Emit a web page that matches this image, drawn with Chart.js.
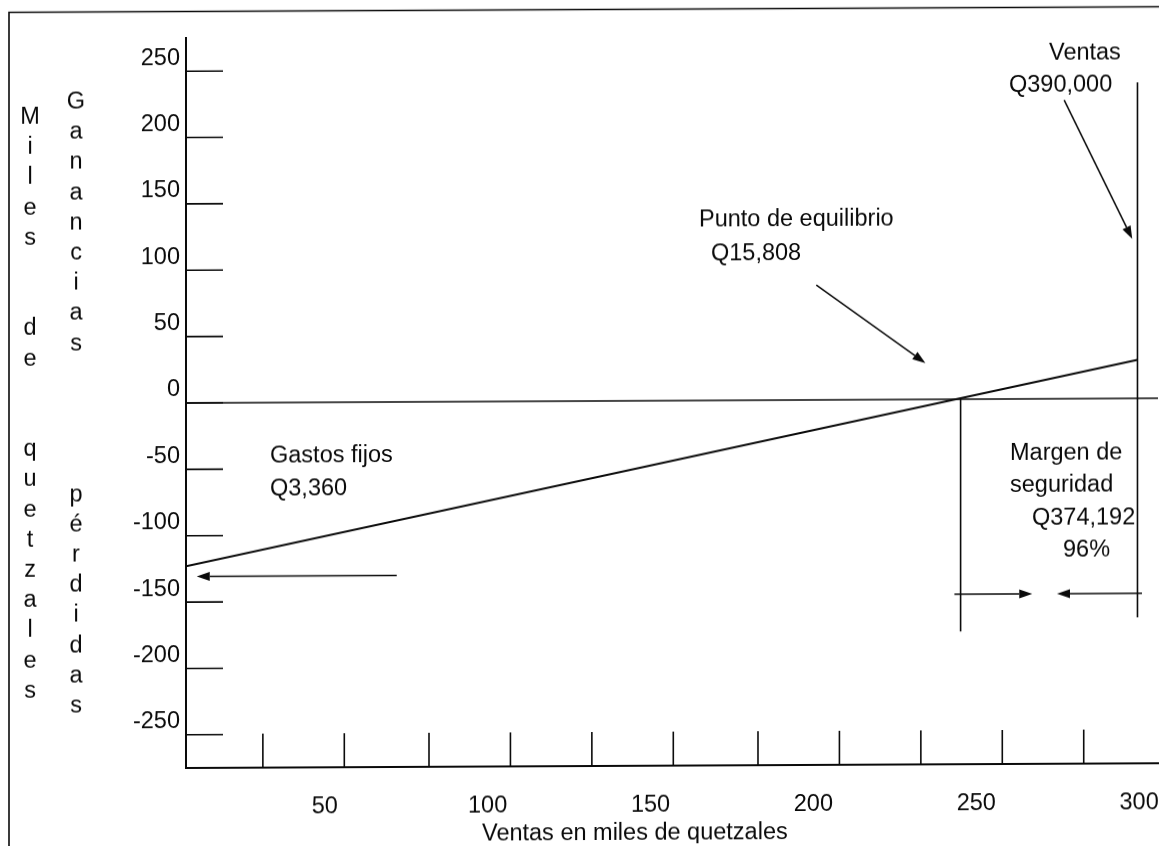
<!DOCTYPE html>
<html lang="es">
<head>
<meta charset="utf-8">
<title>Punto de equilibrio</title>
<script src="https://cdn.jsdelivr.net/npm/chart.js@4.4.1/dist/chart.umd.min.js"></script>
<style>
  html, body { margin: 0; padding: 0; background: #fff; }
  /* el original es un escaneo ligeramente inclinado */
  #wrap { position: relative; width: 1159px; height: 846px; overflow: hidden;
          transform: skewY(-0.28deg); transform-origin: 186px 403px; }
</style>
</head>
<body>
<div id="wrap"><canvas id="grafica"></canvas></div>
<script>
// --- datos del grafico (miles de quetzales) ---
const ticksY = [-250, -200, -150, -100, -50, 0, 50, 100, 150, 200, 250];
const etiquetasX = [50, 100, 150, 200, 250, 300];
const marcasX = [31, 56, 82, 107, 132, 157, 183, 208, 233, 258, 283];

// linea de utilidad / perdida
const utilidadX = [7.4, 299.5];
const utilidadY = [-123, 29];

// linea de cero
const ceroX = [7.4, 305.8];
const ceroY = [0, 0];

// punto de equilibrio y ventas
const equilibrioX = [245.2, 245.2];
const equilibrioY = [0, -175];
const ventasX = [299.5, 299.5];
const ventasY = [238, -165];

// flechas [x inicio, y inicio, x punta, y punta]
const flechaGastos = [72.1, -130.7, 10.7, -130.7];
const flechaEquilibrio = [200.9, 86.6, 234.4, 27.4];
const flechaVentas = [277.0, 225.0, 297.9, 120.1];
const flechaMargenIzq = [243.3, -146.9, 267.2, -146.9];
const flechaMargenDer = [300.9, -146.9, 274.8, -146.9];
const flechas = [flechaGastos, flechaEquilibrio, flechaVentas, flechaMargenIzq, flechaMargenDer];

const fuente = '"Liberation Sans", Arial, sans-serif';
const tamano = 23.5;
const negro = '#0a0a0a';

// textos sueltos (posicion en pixeles, linea base)
const notas = [
  { texto: 'Gastos fijos', x: 270, y: 463 },
  { texto: 'Q3,360', x: 270, y: 496 },
  { texto: 'Punto de equilibrio', x: 699, y: 229 },
  { texto: 'Q15,808', x: 711, y: 263 },
  { texto: 'Ventas', x: 1049, y: 64 },
  { texto: 'Q390,000', x: 1009, y: 96 },
  { texto: 'Margen de', x: 1010, y: 464 },
  { texto: 'seguridad', x: 1010, y: 496 },
  { texto: 'Q374,192', x: 1032, y: 529 },
  { texto: '96%', x: 1063, y: 561 },
  { texto: 'Ventas en miles de quetzales', x: 482, y: 842 }
];

// titulos verticales, una letra por renglon
const columnas = [
  { texto: 'Miles  de  quetzales', x: 30, y: 123 },
  { texto: 'Ganancias    pérdidas', x: 76, y: 108 }
];

function segmento(xs, ys) {
  return xs.map((v, i) => ({ x: v, y: ys[i] }));
}

function dibujaFlecha(ctx, x1, y1, x2, y2) {
  const ang = Math.atan2(y2 - y1, x2 - x1);
  const largo = 13, ancho = 4.5;
  const bx = x2 - largo * Math.cos(ang), by = y2 - largo * Math.sin(ang);
  ctx.beginPath();
  ctx.moveTo(x1, y1);
  ctx.lineTo(bx, by);
  ctx.stroke();
  ctx.beginPath();
  ctx.moveTo(x2, y2);
  ctx.lineTo(bx + ancho * Math.sin(ang), by - ancho * Math.cos(ang));
  ctx.lineTo(bx - ancho * Math.sin(ang), by + ancho * Math.cos(ang));
  ctx.closePath();
  ctx.fill();
}

const decoracion = {
  id: 'decoracion',
  afterDraw(chart) {
    const { ctx, chartArea: a, scales: { x, y } } = chart;
    ctx.save();
    ctx.strokeStyle = negro;
    ctx.fillStyle = negro;

    // marco de la hoja
    ctx.lineWidth = 1.6;
    ctx.beginPath();
    ctx.moveTo(9, 846);
    ctx.lineTo(9, 11.5);
    ctx.lineTo(1159, 11.5);
    ctx.stroke();

    // marcas del eje y (hacia adentro)
    ticksY.forEach(v => {
      const py = y.getPixelForValue(v);
      ctx.beginPath();
      ctx.moveTo(a.left, py);
      ctx.lineTo(a.left + 37, py);
      ctx.stroke();
    });

    // marcas del eje x (hacia arriba)
    marcasX.forEach(v => {
      const px = x.getPixelForValue(v);
      ctx.beginPath();
      ctx.moveTo(px, a.bottom);
      ctx.lineTo(px, a.bottom - 34);
      ctx.stroke();
    });

    // flechas
    ctx.lineWidth = 1.5;
    flechas.forEach(f => dibujaFlecha(ctx,
      x.getPixelForValue(f[0]), y.getPixelForValue(f[1]),
      x.getPixelForValue(f[2]), y.getPixelForValue(f[3])));

    // textos
    ctx.font = tamano + 'px ' + fuente;
    ctx.textBaseline = 'alphabetic';
    ctx.textAlign = 'left';
    notas.forEach(n => ctx.fillText(n.texto, n.x, n.y));

    ctx.textAlign = 'center';
    columnas.forEach(c => {
      [...c.texto].forEach((ch, i) => ctx.fillText(ch, c.x, c.y + i * 30.2));
    });
    ctx.restore();
  }
};

const estiloLinea = { showLine: true, pointRadius: 0, borderColor: negro, fill: false };

new Chart(document.getElementById('grafica'), {
  type: 'scatter',
  data: {
    datasets: [
      { ...estiloLinea, label: 'Utilidad', data: segmento(utilidadX, utilidadY), borderWidth: 2 },
      { ...estiloLinea, label: 'Cero', data: segmento(ceroX, ceroY), borderWidth: 1.6 },
      { ...estiloLinea, label: 'Equilibrio', data: segmento(equilibrioX, equilibrioY), borderWidth: 1.6 },
      { ...estiloLinea, label: 'Ventas', data: segmento(ventasX, ventasY), borderWidth: 1.6 }
    ]
  },
  options: {
    responsive: true,
    maintainAspectRatio: false,
    animation: false,
    layout: { padding: { top: 38, left: 0, right: 0, bottom: 0 } },
    plugins: {
      legend: { display: false },
      tooltip: { enabled: false }
    },
    scales: {
      x: {
        type: 'linear',
        min: 7.4,
        max: 305.8,
        afterBuildTicks: s => { s.ticks = etiquetasX.map(v => ({ value: v })); },
        afterFit: s => { s.height = 78; s.paddingLeft = 0; s.paddingRight = 0; },
        grid: { display: false, drawTicks: false },
        border: { display: true, color: negro, width: 2 },
        ticks: {
          autoSkip: false,
          maxRotation: 0,
          padding: 25,
          color: negro,
          font: { family: fuente, size: tamano }
        }
      },
      y: {
        type: 'linear',
        min: -275,
        max: 275,
        afterBuildTicks: s => { s.ticks = ticksY.map(v => ({ value: v })); },
        afterFit: s => { s.width = 186; s.paddingTop = 0; s.paddingBottom = 0; },
        grid: { display: false, drawTicks: false },
        border: { display: true, color: negro, width: 2 },
        ticks: {
          autoSkip: false,
          padding: 6,
          labelOffset: -13,
          color: negro,
          font: { family: fuente, size: tamano }
        }
      }
    }
  },
  plugins: [decoracion]
});
</script>
</body>
</html>
